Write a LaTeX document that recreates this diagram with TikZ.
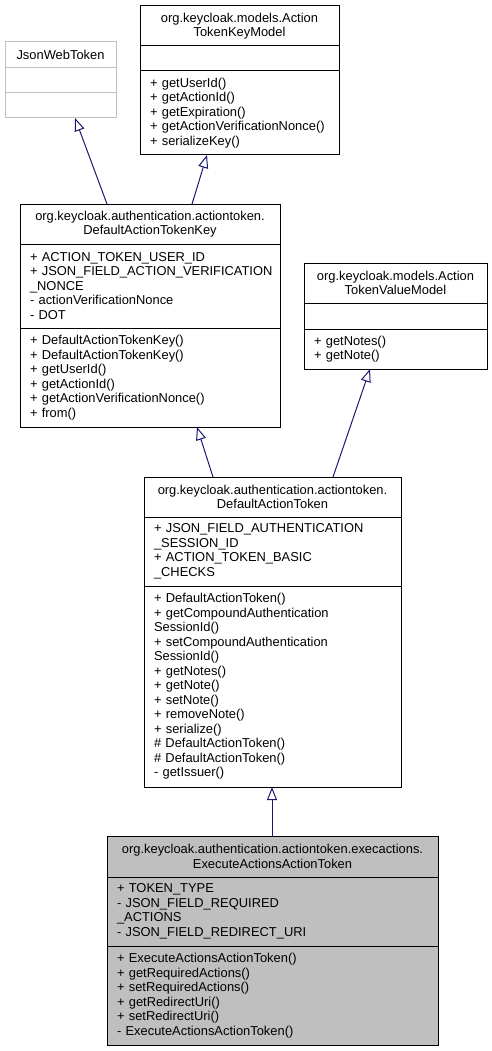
\documentclass[tikz,border=0pt]{standalone}
\usepackage{fontspec}
\setmainfont{Liberation Sans}
\usetikzlibrary{arrows.meta}
\definecolor{edgeblue}{RGB}{25,25,112}
\definecolor{boxgrey}{RGB}{191,191,191}
\tikzset{
 part/.style={draw,line width=1pt,rectangle,anchor=north west,inner xsep=10pt,inner ysep=0pt,outer sep=0pt,font=\fontsize{12.9}{14.5}\selectfont},
 title/.style={part,align=center},
 list/.style={part,align=left},
 inh/.style={draw=edgeblue,line width=1pt,-{Triangle[open,length=13pt,width=10pt,fill=white]}}
}
\begin{document}
\begin{tikzpicture}[x=1pt,y=-1pt]
\useasboundingbox (0,0) rectangle (492,1051);
% JsonWebToken
\node[title,draw=boxgrey,text width=91pt,minimum height=26pt] (jwtT) at (5,42) {JsonWebToken};
\node[list,draw=boxgrey,text width=91pt,minimum height=25pt] (jwtA) at (5,68) {};
\node[list,draw=boxgrey,text width=91pt,minimum height=25pt] (jwtM) at (5,93) {};
% ActionTokenKeyModel
\node[title,text width=179pt,minimum height=40pt] (atkmT) at (140,6) {org.keycloak.models.Action\\TokenKeyModel};
\node[list,text width=179pt,minimum height=25pt] (atkmA) at (140,46) {};
\node[list,text width=179pt,minimum height=84pt] (atkmM) at (140,71) {+ getUserId()\\+ getActionId()\\+ getExpiration()\\+ getActionVerificationNonce()\\+ serializeKey()};
% DefaultActionTokenKey
\node[title,text width=240pt,minimum height=40pt] (dakT) at (20,204) {org.keycloak.authentication.actiontoken.\\DefaultActionTokenKey};
\node[list,text width=240pt,minimum height=84pt] (dakA) at (20,244) {+ ACTION\_TOKEN\_USER\_ID\\+~JSON\_FIELD\_ACTION\_VERIFICATION\\\_NONCE\\- actionVerificationNonce\\- DOT};
\node[list,text width=240pt,minimum height=99pt] (dakM) at (20,328) {+ DefaultActionTokenKey()\\+ DefaultActionTokenKey()\\+ getUserId()\\+ getActionId()\\+ getActionVerificationNonce()\\+ from()};
% ActionTokenValueModel
\node[title,text width=163pt,minimum height=40pt] (atvmT) at (304,263) {org.keycloak.models.Action\\TokenValueModel};
\node[list,text width=163pt,minimum height=26pt] (atvmA) at (304,303) {};
\node[list,text width=163pt,minimum height=40pt] (atvmM) at (304,329) {+ getNotes()\\+ getNote()};
% DefaultActionToken
\node[title,text width=237pt,minimum height=40pt] (datT) at (144,477) {org.keycloak.authentication.actiontoken.\\DefaultActionToken};
\node[list,text width=237pt,minimum height=69pt] (datA) at (144,517) {+ JSON\_FIELD\_AUTHENTICATION\\\_SESSION\_ID\\+ ACTION\_TOKEN\_BASIC\\\_CHECKS};
\node[list,text width=237pt,minimum height=201pt] (datM) at (144,586) {+ DefaultActionToken()\\+ getCompoundAuthentication\\SessionId()\\+ setCompoundAuthentication\\SessionId()\\+ getNotes()\\+ getNote()\\+ setNote()\\+ removeNote()\\+ serialize()\\\# DefaultActionToken()\\\# DefaultActionToken()\\- getIssuer()};
% ExecuteActionsActionToken
\node[title,fill=boxgrey,text width=311pt,minimum height=41pt] (eaatT) at (107,836) {org.keycloak.authentication.actiontoken.execactions.\\ExecuteActionsActionToken};
\node[list,fill=boxgrey,text width=311pt,minimum height=69pt] (eaatA) at (107,877) {+ TOKEN\_TYPE\\- JSON\_FIELD\_REQUIRED\\\_ACTIONS\\- JSON\_FIELD\_REDIRECT\_URI};
\node[list,fill=boxgrey,text width=311pt,minimum height=99pt] (eaatM) at (107,946) {+ ExecuteActionsActionToken()\\+ getRequiredActions()\\+ setRequiredActions()\\+ getRedirectUri()\\+ setRedirectUri()\\- ExecuteActionsActionToken()};
% inheritance
\draw[inh] ([xshift=87]dakT.north west) -- ([xshift=70]jwtM.south west);
\draw[inh] ([xshift=172]dakT.north west) -- ([xshift=67]atkmM.south west);
\draw[inh] ([xshift=69]datT.north west) -- ([xshift=177]dakM.south west);
\draw[inh] ([xshift=189]datT.north west) -- ([xshift=66]atvmM.south west);
\draw[inh] ([xshift=165]eaatT.north west) -- ([xshift=128]datM.south west);
\end{tikzpicture}
\end{document}
